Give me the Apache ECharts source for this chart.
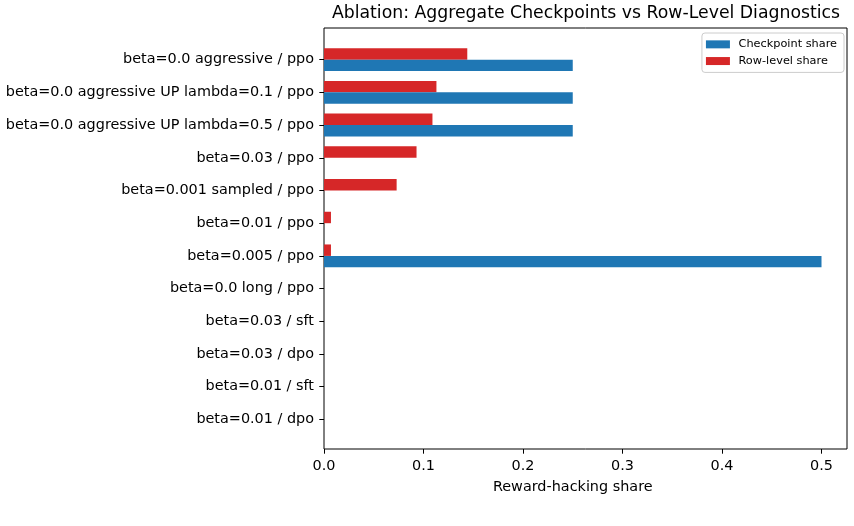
<!DOCTYPE html>
<html>
<head>
<meta charset="utf-8">
<script src="https://cdn.jsdelivr.net/npm/echarts@6/dist/echarts.min.js"></script>
<style>
  html, body { margin: 0; padding: 0; background: #fff; }
  #chart { width: 854px; height: 526px; }
</style>
</head>
<body>
<div id="chart"></div>
<script>
const categories = [
  'beta=0.0 aggressive / ppo',
  'beta=0.0 aggressive UP lambda=0.1 / ppo',
  'beta=0.0 aggressive UP lambda=0.5 / ppo',
  'beta=0.03 / ppo',
  'beta=0.001 sampled / ppo',
  'beta=0.01 / ppo',
  'beta=0.005 / ppo',
  'beta=0.0 long / ppo',
  'beta=0.03 / sft',
  'beta=0.03 / dpo',
  'beta=0.01 / sft',
  'beta=0.01 / dpo'
];
const checkpointShare = [0.25, 0.25, 0.25, 0, 0, 0, 0.5, 0, 0, 0, 0, 0];
const rowLevelShare = [0.144, 0.113, 0.109, 0.093, 0.073, 0.007, 0.007, 0, 0, 0, 0, 0];
const xTicks = [0, 0.1, 0.2, 0.3, 0.4, 0.5];

const font = 'DejaVu Sans';
let chart = echarts.init(document.getElementById('chart'));

// plot frame 324..847 x 28..449, data 0..0.5 spans 324..821.5
let option = {
  backgroundColor: '#fff',
  animation: false,
  title: {
    text: 'Ablation: Aggregate Checkpoints vs Row-Level Diagnostics',
    left: 586,
    top: 5,
    padding: 0,
    textAlign: 'center',
    textStyle: { fontFamily: font, fontSize: 17.3, fontWeight: 'normal', color: '#000' }
  },
  legend: {
    data: ['Checkpoint share', 'Row-level share'],
    orient: 'vertical',
    icon: 'rect',
    right: 10,
    top: 33,
    padding: [5, 7, 5, 4],
    itemWidth: 24,
    itemHeight: 8,
    itemGap: 4,
    borderColor: '#cccccc',
    borderWidth: 1,
    borderRadius: 3,
    backgroundColor: 'rgba(255,255,255,0.8)',
    textStyle: { fontFamily: font, fontSize: 11.3, lineHeight: 12.7, color: '#000', padding: [0, 0, 0, 3.6] }
  },
  grid: [
    { left: 324, top: 28, width: 497.5, height: 421 },
    { left: 324, top: 43.3, width: 497.5, height: 392.5 },
    { left: 324, top: 28, width: 523, height: 421, show: true, borderColor: '#000', borderWidth: 1, backgroundColor: 'transparent' }
  ],
  xAxis: [
    {
      gridIndex: 0, type: 'value', min: 0, max: 0.5, interval: 0.1,
      name: 'Reward-hacking share', nameLocation: 'middle', nameGap: 31,
      nameTextStyle: { fontFamily: font, fontSize: 14.4, color: '#000' },
      axisLine: { show: false },
      axisTick: { show: true, length: 4.7, lineStyle: { color: '#000' } },
      axisLabel: { margin: 10, fontFamily: font, fontSize: 14.4, color: '#000',
        formatter: v => xTicks.includes(Math.round(v * 10) / 10) ? v.toFixed(1) : '' },
      splitLine: { show: false }
    },
    { gridIndex: 1, type: 'value', min: 0, max: 0.5, show: false, splitLine: { show: false } },
    { gridIndex: 2, type: 'value', show: false, splitLine: { show: false } }
  ],
  yAxis: [
    { gridIndex: 0, type: 'value', show: false, splitLine: { show: false } },
    {
      gridIndex: 1, type: 'category', data: categories, inverse: true,
      axisLine: { show: false },
      axisTick: { show: true, alignWithLabel: true, length: 4.7, lineStyle: { color: '#000' } },
      axisLabel: { margin: 10, padding: [3, 0, 0, 0], fontFamily: font, fontSize: 14.4, color: '#000' }
    },
    { gridIndex: 2, type: 'value', show: false, splitLine: { show: false } }
  ],
  series: [
    {
      name: 'Row-level share', type: 'bar', xAxisIndex: 1, yAxisIndex: 1,
      barWidth: 11.45, barGap: '0%',
      itemStyle: { color: '#d62728', borderRadius: 0, borderWidth: 0 },
      data: rowLevelShare
    },
    {
      name: 'Checkpoint share', type: 'bar', xAxisIndex: 1, yAxisIndex: 1,
      barWidth: 11.45, barGap: '0%',
      itemStyle: { color: '#1f77b4', borderRadius: 0, borderWidth: 0 },
      data: checkpointShare
    }
  ]
};
chart.setOption(option);
</script>
</body>
</html>
